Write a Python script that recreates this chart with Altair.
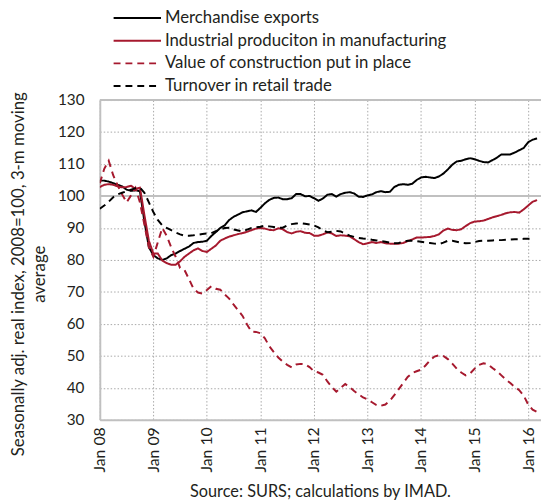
import altair as alt
import pandas as pd

series_names = [
    "Merchandise exports",
    "Industrial produciton in manufacturing",
    "Value of construction put in place",
    "Turnover in retail trade",
]
series_colors = ["#000000", "#A6192E", "#A6192E", "#000000"]
series_dash = [[1, 0], [1, 0], [7, 5], [7, 5]]

start_year = 2008  # first month: Jan 2008, monthly data

exports = [
    104.8, 104.8, 104.5, 104.0, 103.5, 103.0, 102.0, 101.6, 101.8, 101.5,
    92.0, 84.0, 81.5, 80.5, 80.0, 80.5, 81.5, 82.0, 82.8, 83.5,
    84.2, 85.3, 85.6, 85.7, 86.0, 87.5, 88.7, 90.0, 90.8, 92.5,
    93.5, 94.2, 94.9, 95.2, 95.5, 95.0, 96.3, 97.7, 98.8, 99.4,
    99.5, 99.0, 99.0, 99.3, 100.6, 100.6, 99.9, 100.0, 99.3, 98.5,
    99.2, 100.4, 100.6, 99.8, 100.6, 101.0, 101.2, 100.8, 99.8, 99.7,
    100.2, 100.5, 101.2, 101.5, 101.2, 101.3, 102.8, 103.5, 103.7, 103.5,
    103.8, 105.0, 105.8, 106.0, 105.8, 105.6, 106.1, 107.0, 108.3, 109.8,
    110.8, 111.0, 111.5, 111.8, 111.5, 111.0, 110.6, 110.5, 111.2, 112.0,
    113.0, 113.0, 113.0, 113.6, 114.3, 115.0, 116.8, 117.6, 118.0,
]
industry = [
    102.8, 103.5, 103.7, 103.5, 103.0, 102.7, 102.8, 103.2, 102.2, 102.6,
    94.0, 86.0, 82.0, 82.0, 79.8, 79.0, 78.5, 78.5, 79.6, 81.0,
    82.0, 83.0, 83.6, 82.8, 82.5, 83.5, 84.5, 86.0, 86.7, 87.3,
    87.7, 88.1, 88.4, 88.8, 89.3, 89.8, 90.0, 89.8, 89.4, 89.3,
    89.9, 89.6, 88.7, 88.3, 88.8, 89.0, 88.5, 88.4, 87.6, 87.6,
    88.0, 88.6, 88.3, 87.5, 87.7, 87.6, 87.4, 86.5, 85.6, 84.9,
    85.2, 85.6, 85.3, 85.6, 85.2, 85.1, 85.1, 85.1, 85.3, 85.9,
    86.4, 87.0, 87.0, 87.1, 87.2, 87.5, 88.0, 89.2, 89.8, 89.4,
    89.3, 89.6, 90.6, 91.5, 92.0, 92.1, 92.3, 92.8, 93.3, 93.7,
    94.1, 94.6, 94.9, 95.0, 94.8, 95.8, 97.0, 98.2, 98.7,
]
construction = [
    104.0, 108.5, 111.0, 106.5, 103.3, 100.5, 98.0, 100.2, 102.5, 98.0,
    91.0, 84.0, 81.0, 85.5, 90.0, 87.5, 84.0, 81.0, 77.5, 76.8,
    74.0, 71.0, 69.8, 69.5, 70.6, 71.8, 71.0, 70.7, 69.2, 67.9,
    66.0, 64.3, 62.5, 59.8, 57.6, 57.5, 57.1, 55.5, 53.0, 51.2,
    49.5, 48.2, 47.2, 46.4, 47.3, 47.5, 47.4, 46.5, 45.2, 44.8,
    44.1, 42.0, 40.3, 38.8, 40.0, 41.2, 40.2, 39.0, 38.0, 37.0,
    36.4, 35.5, 34.6, 34.4, 34.8, 36.0, 37.7, 39.6, 41.5, 43.4,
    44.6, 45.2, 45.7, 47.0, 48.6, 49.8, 50.2, 50.0, 49.0, 47.6,
    46.0, 44.8, 43.9, 44.5, 46.0, 47.2, 47.7, 47.4, 46.2, 45.2,
    43.9, 42.6, 41.5, 40.3, 39.3, 37.6, 34.8, 33.2, 32.5,
]
retail = [
    96.0, 97.0, 98.2, 99.6, 100.5, 101.0, 101.5, 102.0, 102.4, 102.6,
    101.0, 98.0, 95.0, 92.5, 90.8, 90.0, 89.3, 88.6, 88.0, 87.6,
    87.6, 87.7, 87.9, 88.1, 88.3, 88.4, 89.0, 89.5, 90.0, 90.1,
    89.5, 89.2, 88.9, 89.5, 90.0, 90.2, 90.4, 90.7, 90.5, 90.3,
    90.1, 90.1, 90.8, 91.2, 91.4, 91.5, 91.3, 91.1, 90.8, 90.2,
    89.3, 88.7, 88.8, 89.1, 88.9, 88.2, 87.6, 87.2, 86.9, 86.7,
    86.6, 86.3, 86.1, 85.9, 85.7, 85.4, 85.2, 85.3, 85.7, 86.0,
    86.0, 85.9, 85.7, 85.5, 85.3, 85.1, 85.0, 85.4, 86.0, 86.0,
    85.7, 85.4, 85.2, 85.3, 85.6, 85.9, 86.0, 86.0, 86.1, 86.2,
    86.2, 86.3, 86.4, 86.5, 86.5, 86.6, 86.6, 86.7,
]

year_ticks = list(range(2008, 2017))
y_ticks = list(range(30, 131, 10))
y_title = ["Seasonally adj. real index, 2008=100, 3-m moving", "average"]
caption = "Source: SURS; calculations by IMAD."

rows = []
for name, vals in zip(series_names, [exports, industry, construction, retail]):
    for i, v in enumerate(vals):
        rows.append({"series": name, "t": start_year + i / 12.0, "value": v})
df = pd.DataFrame(rows)

FONT = "Lato"
TXT = "#231f20"

x_scale = alt.Scale(domain=[2008, 2016.24], nice=False, zero=False)
y_scale = alt.Scale(domain=[30, 130], nice=False, zero=False)

y_axis = alt.Axis(values=y_ticks, labelFontSize=15.5, labelFont=FONT,
                  labelColor=TXT, labelPadding=16, ticks=False,
                  labelOverlap=False,
                  grid=True, gridDash=[1.5, 2], gridColor="#a8a8a8", gridWidth=1,
                  domainColor="#c0c0c0", domainWidth=2,
                  title=y_title, titleFont=FONT, titleFontSize=17,
                  titleFontWeight="normal", titleColor=TXT,
                  titleAngle=270, titleAlign="center",
                  titleBaseline="alphabetic", titleLineHeight=21,
                  titleX=-77, titleY=176)

legend_kw = dict(title=None, orient="none", legendX=13, legendY=-94.5,
                 symbolType="stroke", symbolSize=2304, symbolStrokeWidth=2,
                 labelFont=FONT, labelFontSize=17, labelColor=TXT,
                 labelLimit=400, rowPadding=0, clipHeight=22.7,
                 labelOffset=3, padding=0)

lines = alt.Chart(df).mark_line(strokeWidth=2, clip=True).encode(
    x=alt.X("t:Q", scale=x_scale,
            axis=alt.Axis(values=year_ticks, title=None, labelAngle=270,
                          labelExpr="'Jan ' + slice(toString(datum.value), 2)",
                          labelFontSize=16, labelFont=FONT, labelColor=TXT,
                          labelPadding=7, ticks=False, labelOverlap=False,
                          grid=True, gridDash=[1.5, 2], gridColor="#a8a8a8", gridWidth=1,
                          domainColor="#c0c0c0", domainWidth=2)),
    y=alt.Y("value:Q", scale=y_scale, axis=y_axis),
    color=alt.Color("series:N",
                    scale=alt.Scale(domain=series_names, range=series_colors),
                    legend=alt.Legend(**legend_kw)),
    strokeDash=alt.StrokeDash("series:N",
                              scale=alt.Scale(domain=series_names, range=series_dash),
                              legend=alt.Legend(**legend_kw)),
    order=alt.Order("series:N"),
)

ref_vals = [100, 130]
ref_df = pd.DataFrame({"v": ref_vals})
rules = alt.Chart(ref_df).mark_rule(color="#c0c0c0", strokeWidth=2).encode(
    y=alt.Y("v:Q", scale=y_scale, axis=y_axis)
)

chart = alt.layer(rules, lines).properties(
    width=447,
    height=324,
    autosize=alt.AutoSizeParams(type="none"),
    padding={"left": 93, "top": 90, "right": 0, "bottom": 82},
    title=alt.TitleParams(caption, orient="bottom", anchor="middle", frame="group",
                          font=FONT, fontSize=16.5, fontWeight="normal", color=TXT,
                          offset=12),
).configure_view(stroke=None)

chart.save("out.html", embed_options={"renderer": "svg", "actions": False})
